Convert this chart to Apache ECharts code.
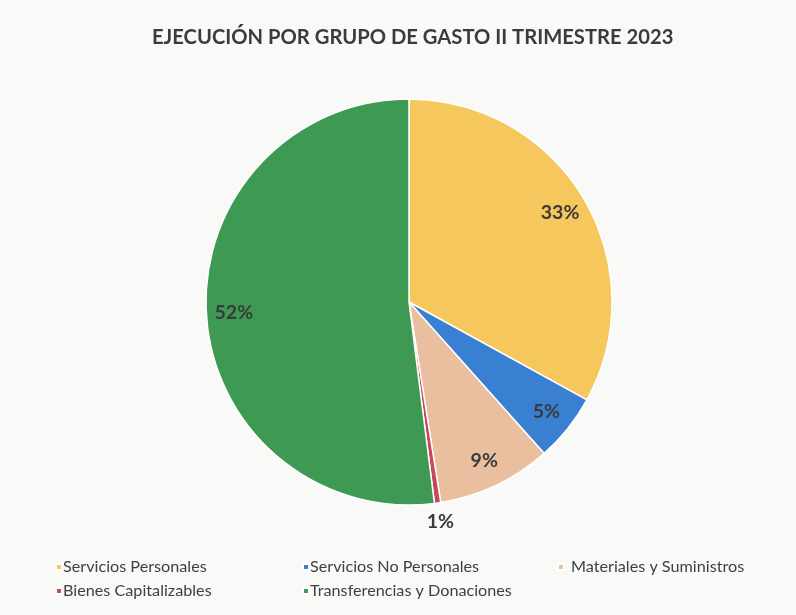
<!DOCTYPE html>
<html>
<head>
<meta charset="utf-8">
<script src="https://cdn.jsdelivr.net/npm/echarts@6/dist/echarts.min.js"></script>
<style>
html,body{margin:0;padding:0;background:#f9f9f8;}
#chart{width:796px;height:615px;}
</style>
</head>
<body>
<div id="chart"></div>
<script>
const categories = ['Servicios Personales','Servicios No Personales','Materiales y Suministros','Bienes Capitalizables','Transferencias y Donaciones'];
const values = [33.0, 5.4, 9.1, 0.5, 52.0];
const colors = ['#f5c75c','#3a80d2','#eabf9f','#c7485c','#3e9a52'];
const titleText = 'EJECUCIÓN POR GRUPO DE GASTO II TRIMESTRE 2023';

const FONT = 'Lato, "Open Sans", sans-serif';
const chart = echarts.init(document.getElementById('chart'));

const pieData = categories.map((c,i)=>({name:c, value:values[i], itemStyle:{color:colors[i]}}));
const labelData = categories.map((c,i)=>({name:c, value:values[i], label:{show:i!==3}}));
const outerLabelData = categories.map((c,i)=>({name:c, value:values[i], label:{show:i===3}}));

function legendFor(names, left, textPad){
  return {
    left:left, top:558, padding:0, orient:'vertical', itemWidth:6, itemHeight:6, itemGap:6,
    icon:'rect', selectedMode:false,
    textStyle:{fontFamily:FONT, fontSize:16.2, color:'#404040', lineHeight:18, padding:[0,0,0,textPad]},
    data: names.map(n=>({name:n, itemStyle:{color:colors[categories.indexOf(n)]}}))
  };
}

const labelStyle = {fontFamily:FONT, fontWeight:'bold', fontSize:19.5, color:'#3a3a3a',
  formatter:p=>Math.round(p.value)+'%'};

chart.setOption({
  backgroundColor:'#f9f9f8',
  animation:false,
  title:{text:titleText, left:152, top:27, padding:0,
    textStyle:{fontFamily:FONT, fontWeight:'bold', fontSize:20.2, color:'#3b3b3b'}},
  legend:[
    legendFor([categories[0], categories[3]], 55, -4),
    legendFor([categories[1], categories[4]], 302, -4),
    legendFor([categories[2]], 557, 2)
  ],
  series:[
    {type:'pie', center:[409,302], radius:[0,203], startAngle:90, clockwise:true,
     data:pieData, label:{show:false}, labelLine:{show:false},
     itemStyle:{borderColor:'#ffffff', borderWidth:1.5}, silent:true},
    {type:'pie', center:[409,302], radius:[142,203], startAngle:90, clockwise:true,
     data:labelData, silent:true, legendHoverLink:false,
     itemStyle:{color:'rgba(0,0,0,0)', borderWidth:0},
     label:Object.assign({position:'inside'}, labelStyle),
     labelLine:{show:false}},
    {type:'pie', center:[409,302], radius:[206,232], startAngle:90, clockwise:true,
     data:outerLabelData, silent:true, legendHoverLink:false,
     itemStyle:{color:'rgba(0,0,0,0)', borderWidth:0},
     label:Object.assign({position:'inside'}, labelStyle),
     labelLine:{show:false}}
  ]
});
</script>
</body>
</html>
